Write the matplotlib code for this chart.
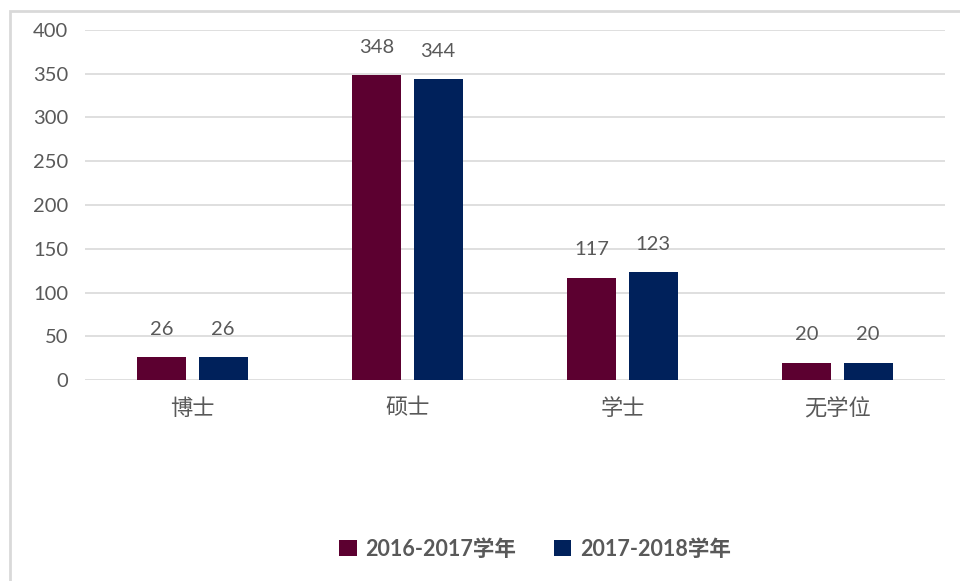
import numpy as np
import matplotlib.pyplot as plt
from matplotlib.patches import Rectangle

categories = ['博士', '硕士', '学士', '无学位']
series_names = ['2016-2017学年', '2017-2018学年']
values_2016 = [26, 348, 117, 20]
values_2017 = [26, 344, 123, 20]
yticks = [0, 50, 100, 150, 200, 250, 300, 350, 400]

colors = ['#5C0030', '#00215B']
text_color = '#595959'
fonts = ['Lato', 'Noto Sans CJK SC', 'DejaVu Sans']

plt.rcParams['font.family'] = fonts


def main():
    fig = plt.figure(figsize=(9.6, 5.81), dpi=100)
    ax = fig.add_axes([85 / 960, 201 / 581, 860 / 960, 350 / 581])

    # outer frame, only top and left edges are visible in the picture
    fig.patches.append(Rectangle((10 / 960, -0.1), 1.2, 0.1 + 570 / 581,
                                 transform=fig.transFigure, fill=False,
                                 edgecolor='#D9D9D9', linewidth=2))

    x = np.arange(len(categories))
    w = 0.228
    off = 0.142
    for vals, c, name, d in zip([values_2016, values_2017], colors,
                                series_names, [-off, off]):
        bars = ax.bar(x + d, vals, w, color=c, label=name, zorder=3)
        for b, v in zip(bars, vals):
            ax.annotate(str(v), (b.get_x() + b.get_width() / 2, v),
                        xytext=(0, 14), textcoords='offset points',
                        ha='center', va='bottom', fontsize=14.5,
                        color=text_color)

    ax.set_xlim(-0.5, 3.5)
    ax.set_ylim(0, 400)
    ax.set_yticks(yticks)
    ax.set_xticks(x)
    ax.set_xticklabels(categories)
    ax.grid(axis='y', color='#D9D9D9', linewidth=1.2, zorder=0)
    for s in ax.spines.values():
        s.set_visible(False)
    ax.tick_params(axis='both', length=0, labelsize=14.5, colors=text_color)
    ax.tick_params(axis='y', pad=12)
    ax.tick_params(axis='x', pad=13, labelsize=16)

    leg = fig.legend(loc='center', bbox_to_anchor=(535 / 960, 32 / 581),
                     ncol=2, frameon=False, handlelength=0.8,
                     handleheight=0.8, columnspacing=1.75, handletextpad=0.4,
                     prop={'family': fonts, 'weight': 'bold', 'size': 15.5})
    for t in leg.get_texts():
        t.set_color(text_color)

    fig.savefig('out.png', dpi=100)


if __name__ == "__main__":
    main()
